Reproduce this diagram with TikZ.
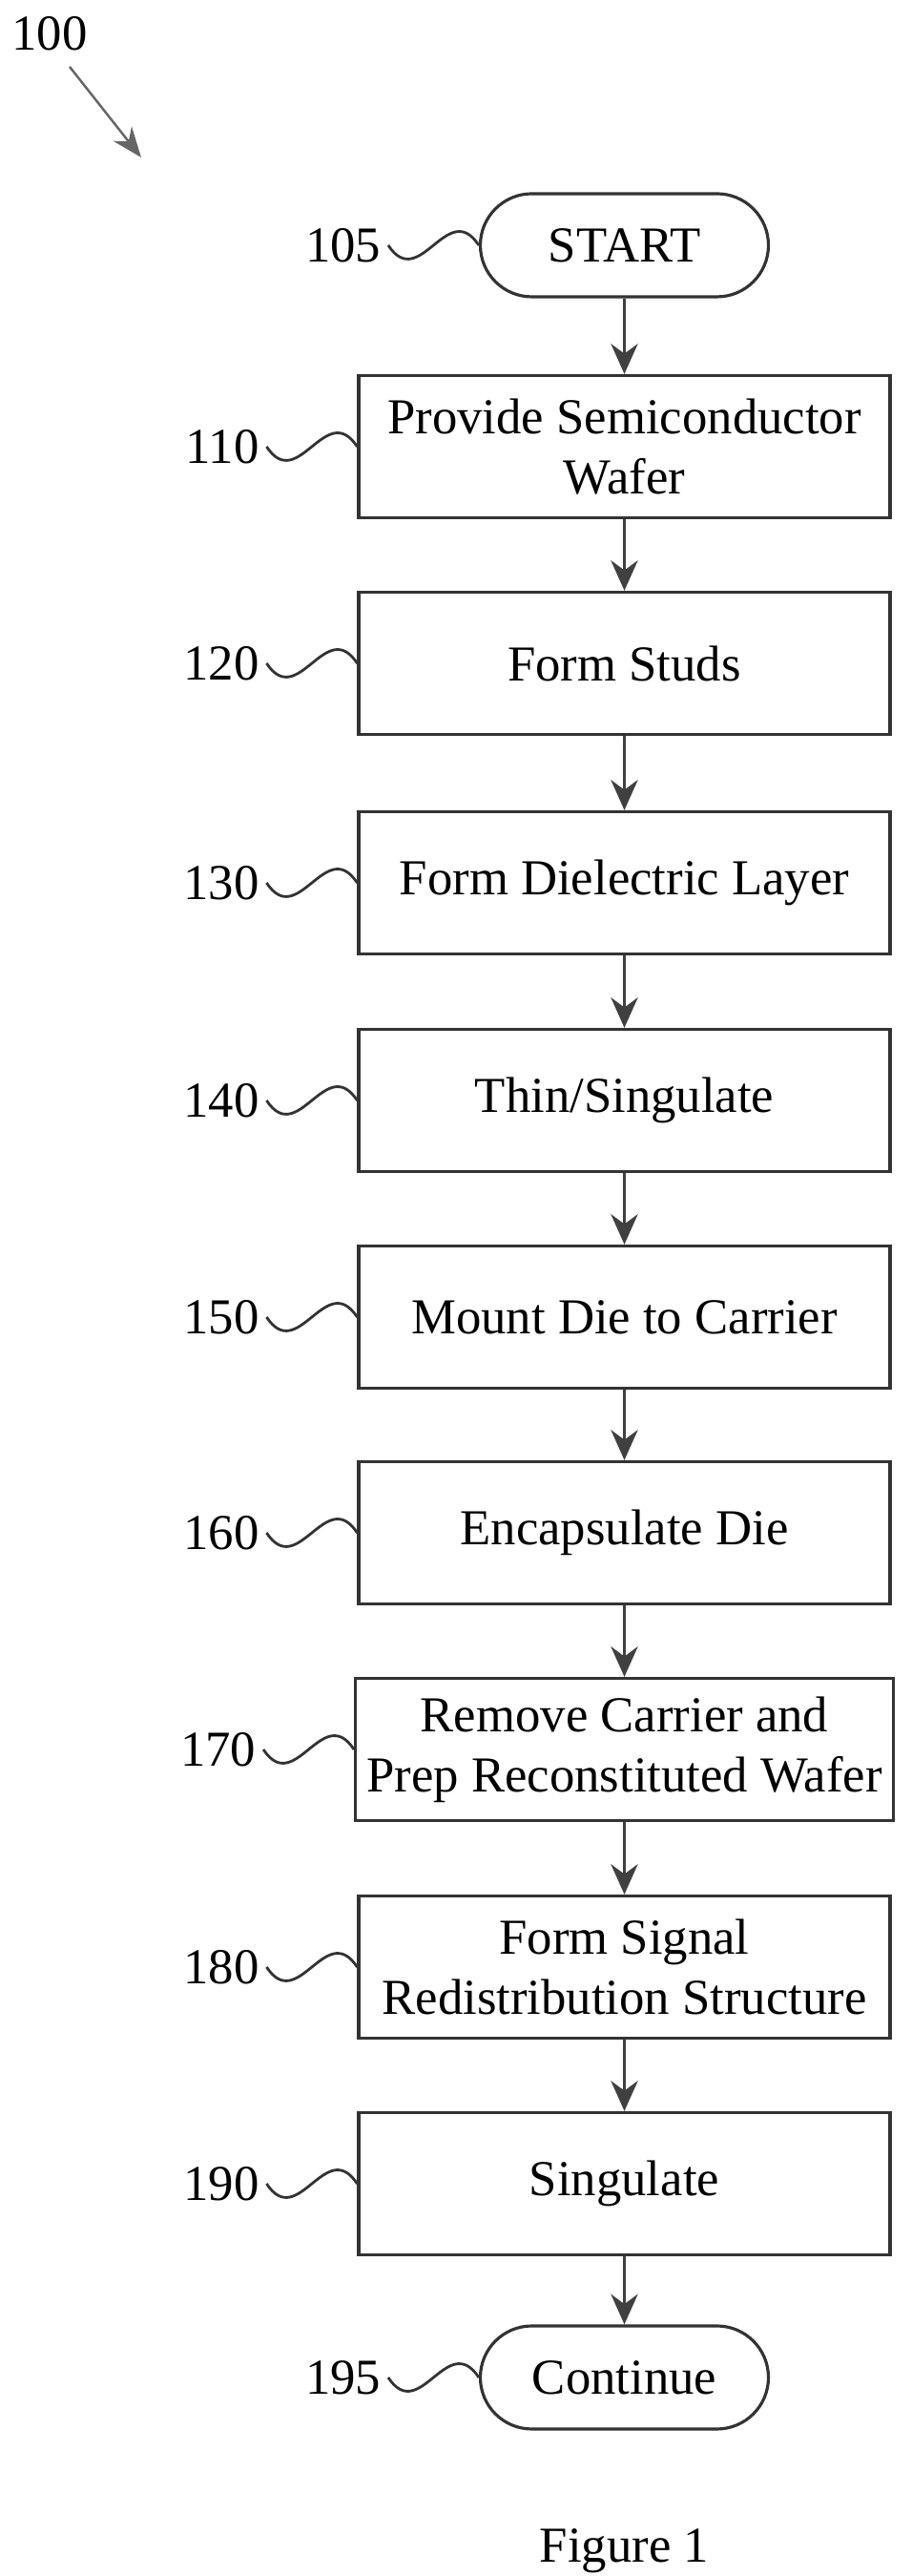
\documentclass[tikz,border=0pt]{standalone}
\usepackage{fontspec}
\setmainfont{Liberation Serif}
\usetikzlibrary{arrows.meta,positioning}

\tikzset{
  procbox/.style={draw=black!80, line width=0.9pt, minimum width=5.57cm, minimum height=1.49cm,
    align=center, font=\fontsize{15}{18}\selectfont},
  term/.style={procbox, rounded corners=0.54cm, minimum width=3.02cm, minimum height=1.08cm},
  num/.style={font=\fontsize{15}{18}\selectfont, inner sep=2pt},
  squig/.style={draw=black!80, line width=0.8pt,
    to path={.. controls +(0.33,-0.5) and +(-0.33,0.5) .. (\tikztotarget)}},
  flow/.style={draw=black!75, line width=1.1pt, -{Stealth[length=9pt,width=8pt]}}
}

\begin{document}
\begin{tikzpicture}
  \useasboundingbox (0,0) rectangle (9.55,26.99);

  % Reference number and pointer
  \node[num] (fig) at (0.52,26.64) {100};
  \coordinate (tip) at (1.48,25.34);
  \draw[draw=black!60, line width=0.7pt, -{Stealth[length=9pt,width=7pt]}] (0.73,26.29) -- (tip);

  % Terminals
  \node[term] (s105) at (6.545,24.42) {START};
  \node[term] (s195) at (6.545,2.08) {Continue};

  % Process steps
  \node[procbox] (s110) at (6.545,22.31) {Provide Semiconductor\\Wafer};
  \node[procbox] (s120) at (6.545,20.04) {Form Studs};
  \node[procbox] (s130) at (6.545,17.74) {Form Dielectric Layer};
  \node[procbox] (s140) at (6.545,15.46) {Thin/Singulate};
  \node[procbox] (s150) at (6.545,13.19) {Mount Die to Carrier};
  \node[procbox] (s160) at (6.545,10.93) {Encapsulate Die};
  \node[procbox] (s170) at (6.545,8.66) {Remove Carrier and\\Prep Reconstituted Wafer};
  \node[procbox] (s180) at (6.545,6.38) {Form Signal\\Redistribution Structure};
  \node[procbox] (s190) at (6.545,4.11) {Singulate};

  % Step numbers with squiggles
  \node[num, left=0.95cm of s105] (n105) {105};
  \draw[squig] (n105.east) to (s105.west);
  \foreach \k in {110,120,...,190}{
    \node[num, left=0.95cm of s\k] (n\k) {\k};
    \draw[squig] (n\k.east) to (s\k.west);
  }
  \node[num, left=0.95cm of s195] (n195) {195};
  \draw[squig] (n195.east) to (s195.west);

  % Flow arrows
  \foreach \a/\b in {105/110,110/120,120/130,130/140,140/150,150/160,160/170,170/180,180/190,190/195}
    \draw[flow] (s\a) -- (s\b);

  \node[num] (caption) at (6.545,0.26) {Figure 1};
\end{tikzpicture}
\end{document}
